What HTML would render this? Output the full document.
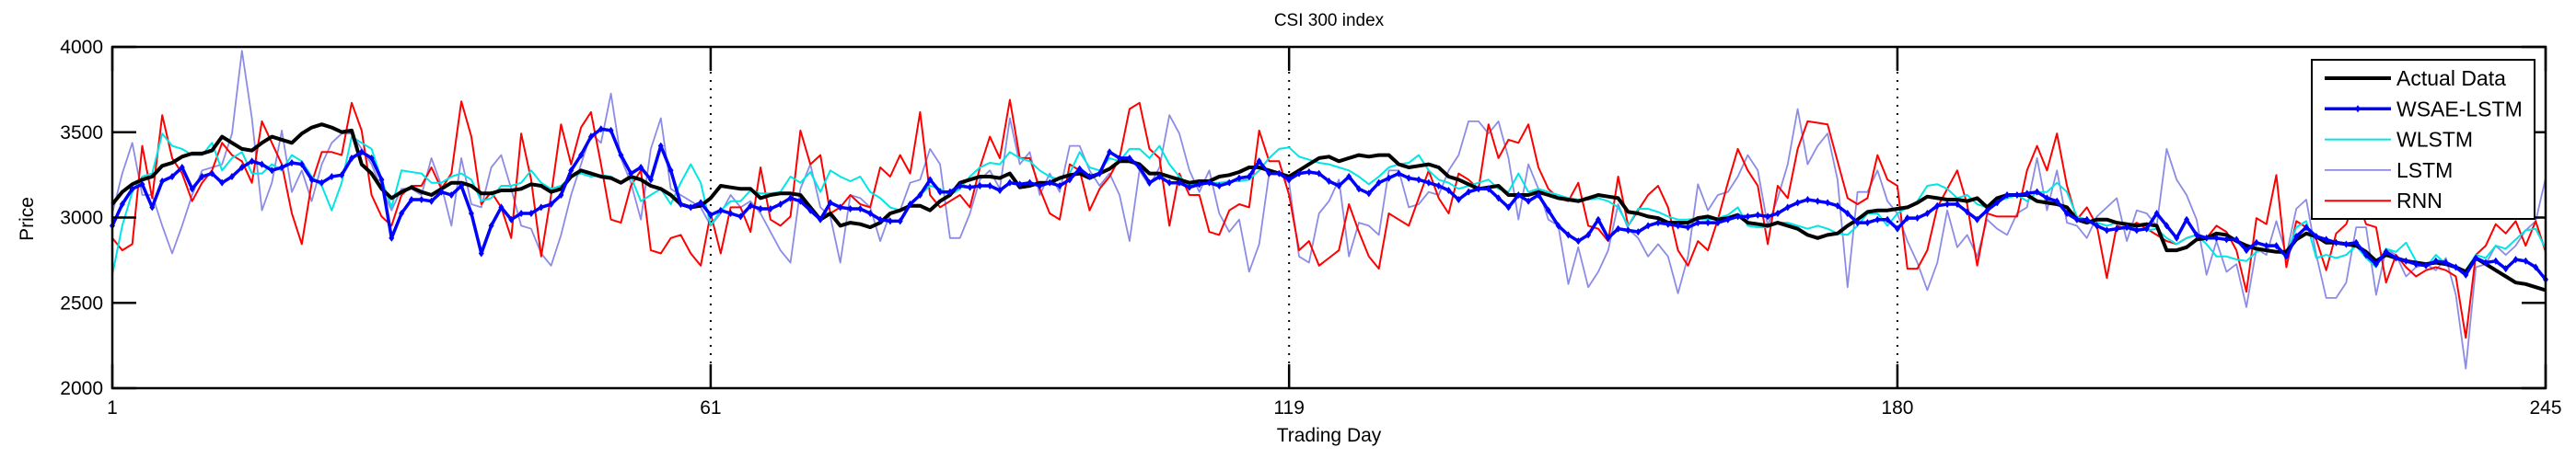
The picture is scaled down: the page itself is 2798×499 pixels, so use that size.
<!DOCTYPE html>
<html><head><meta charset="utf-8"><style>
html,body{margin:0;padding:0;background:#fff;}
svg{display:block;font-family:"Liberation Sans",Arial,sans-serif;}
</style></head><body>
<svg id="chart" width="2798" height="499" viewBox="0 0 2798 499" xmlns="http://www.w3.org/2000/svg"></svg>
<script>
const xTicks=[1,61,119,180,245];
const yTicks=[2000,2500,3000,3500,4000];
const gridDays=[61,119,180];
const actual=[3078,3150,3195,3222,3240,3303,3321,3357,3375,3375,3393,3474,3438,3402,3393,3438,3474,3456,3438,3492,3528,3546,3528,3501,3510,3312,3258,3168,3114,3150,3177,
3150,3132,3168,3204,3204,3186,3141,3141,3159,3159,3168,3195,3186,3150,3168,3240,3276,3258,3240,3231,3204,3240,3222,3186,3168,3132,3078,3060,3069,3114,
3186,3177,3168,3168,3114,3132,3141,3141,3132,3060,2988,3024,2952,2970,2961,2943,2970,3024,3042,3069,3069,3042,3096,3132,3204,3222,3240,3240,3231,3258,3177,
3186,3204,3204,3231,3249,3258,3231,3258,3285,3330,3330,3312,3258,3258,3240,3222,3204,3213,3213,3240,3249,3267,3294,3294,3276,3258,3240,3276,3312,3348,3357,
3330,3348,3366,3357,3366,3366,3312,3294,3303,3312,3294,3240,3222,3195,3168,3177,3186,3132,3132,3132,3150,3132,3114,3105,3096,3114,3132,3123,3114,3033,
3024,3006,2997,2970,2970,2970,2997,3006,2988,2997,3015,2970,2961,2952,2970,2952,2934,2898,2880,2898,2907,2952,2988,3033,3042,3042,3051,3060,3087,3123,3114,
3105,3105,3096,3114,3060,3114,3132,3132,3132,3096,3087,3078,3060,2988,2970,2988,2988,2970,2961,2952,2961,2952,2808,2808,2826,2871,2880,2907,2898,2862,
2835,2817,2808,2799,2799,2871,2907,2889,2853,2853,2844,2835,2799,2745,2781,2763,2745,2736,2727,2736,2727,2709,2682,2763,2727,2691,2655,2619,2610,2592,2574];
const wsae=[2952,3078,3168,3195,3060,3213,3240,3294,3168,3240,3258,3204,3240,3294,3330,3312,3276,3294,3321,3312,3222,3204,3240,3249,3348,3384,3348,3222,2880,3024,3105,
3105,3096,3150,3132,3186,3024,2790,2952,3060,2988,3024,3024,3060,3078,3132,3276,3366,3474,3519,3510,3366,3258,3294,3222,3420,3276,3078,3060,3087,3015,
3042,3024,3006,3069,3051,3051,3078,3114,3096,3042,2988,3087,3060,3051,3051,3024,2988,2979,2979,3078,3132,3222,3150,3150,3186,3177,3186,3186,3159,3204,3195,
3204,3186,3204,3186,3222,3285,3240,3258,3384,3348,3348,3294,3204,3240,3204,3204,3177,3195,3204,3186,3204,3231,3240,3330,3258,3258,3222,3258,3267,3258,3213,
3186,3240,3168,3141,3204,3231,3258,3231,3222,3204,3186,3159,3105,3150,3168,3168,3114,3060,3132,3096,3132,3042,2952,2898,2862,2898,2988,2880,2934,2925,
2916,2952,2970,2961,2952,2943,2970,2970,2970,2988,3006,3006,3015,3006,3024,3060,3087,3105,3096,3087,3069,3024,2970,2970,2988,2988,2934,2997,2997,3024,3069,
3078,3078,3033,2988,3042,3087,3132,3132,3141,3150,3114,3096,3024,2988,2988,2952,2925,2934,2943,2925,2934,3024,2952,2880,2988,2898,2880,2880,2871,2871,
2808,2853,2835,2835,2772,2889,2943,2889,2871,2853,2844,2853,2781,2727,2799,2763,2745,2727,2718,2745,2736,2709,2664,2763,2736,2745,2700,2754,2745,2709,2637];
const wlstm=[2664,2952,3150,3240,3258,3492,3420,3402,3366,3366,3438,3276,3348,3384,3258,3258,3312,3276,3366,3330,3240,3186,3042,3204,3474,3438,3402,3222,3060,3276,3267,
3258,3204,3204,3240,3258,3222,3096,3114,3186,3186,3204,3276,3204,3168,3186,3240,3258,3240,3249,3240,3204,3240,3096,3132,3168,3078,3204,3312,3204,2952,
3042,3096,3096,3159,3141,3141,3150,3240,3204,3267,3150,3276,3240,3213,3240,3150,3114,3060,3042,3078,3132,3186,3168,3132,3168,3240,3294,3321,3312,3384,3348,
3330,3276,3240,3222,3258,3384,3294,3276,3348,3330,3402,3402,3348,3420,3312,3240,3186,3204,3204,3204,3213,3213,3222,3276,3348,3402,3411,3357,3339,3321,3312,
3294,3276,3240,3195,3240,3294,3312,3321,3366,3276,3222,3204,3168,3186,3204,3222,3168,3150,3258,3150,3168,3150,3132,3114,3105,3105,3114,3096,3060,2952,
3051,3051,3033,3006,2988,2988,2997,2988,2997,3015,3060,2952,2943,2943,2970,2970,2952,2934,2952,2934,2907,2898,2952,3024,3024,2952,3024,3060,3096,3186,3195,
3168,3114,3132,3078,3060,3096,3114,3132,3096,3150,3150,3204,3150,3006,2988,2970,2952,2970,2952,2934,2925,2934,2880,2844,2880,2898,2844,2772,2772,2754,
2745,2799,2808,2799,2781,2943,2979,2763,2781,2763,2781,2835,2763,2709,2817,2799,2853,2745,2709,2781,2727,2709,2691,2781,2763,2835,2817,2871,2925,2934,2817];
const lstm=[3024,3258,3438,3132,3132,2952,2790,2952,3132,3276,3294,3312,3492,3978,3582,3042,3204,3510,3150,3276,3096,3312,3438,3492,3492,3402,3312,3168,3042,3168,3168,
3132,3348,3186,2952,3348,3078,3060,3294,3366,3168,2952,2934,2790,2718,2898,3132,3312,3492,3438,3726,3348,3204,2988,3402,3582,3168,3132,3096,3060,2952,
3024,3132,3060,3096,3024,2916,2808,2736,3168,3312,3060,3006,2736,3132,3114,3060,2862,3024,3042,3204,3222,3402,3312,2880,2880,3024,3222,3276,3168,3582,3312,
3384,3132,3258,3150,3420,3420,3276,3186,3258,3132,2862,3276,3186,3294,3600,3492,3276,3150,3276,3024,2916,2988,2682,2844,3258,3258,3204,2772,2736,3024,3096,
3222,2772,2970,2952,2898,3276,3276,3060,3078,3150,3132,3276,3366,3564,3564,3492,3564,3348,2988,3312,3168,2988,2952,2610,2826,2592,2682,2808,3078,2934,
2880,2772,2844,2772,2556,2772,3195,3042,3132,3150,3240,3366,3276,2952,3114,3312,3636,3312,3420,3492,3222,2592,3150,3150,3276,3096,3024,2862,2736,2574,2736,
3042,2826,2898,2772,2988,2934,2898,3024,3060,3348,3042,3276,2970,2952,2880,3006,3060,3114,2862,3042,3024,2952,3402,3222,3132,2988,2664,2862,2682,2727,
2475,2817,2781,2979,2781,3051,3105,2781,2529,2529,2619,2943,2943,2547,2817,2781,2655,2709,2727,2691,2763,2547,2115,2709,2727,2835,2781,2835,2925,2979,3231];
const rnn=[2880,2808,2844,3420,3114,3600,3348,3258,3096,3204,3276,3438,3366,3330,3204,3564,3438,3312,3024,2844,3204,3384,3384,3366,3672,3510,3132,3006,2952,3132,3186,
3186,3294,3168,3258,3681,3474,3078,3150,3060,2880,3492,3222,2772,3132,3546,3312,3528,3618,3312,2988,2970,3186,3276,2808,2790,2880,2898,2790,2718,3024,
2790,3060,3060,2916,3294,2988,2952,3006,3510,3312,3366,3024,3060,3132,3078,3060,3294,3240,3366,3258,3618,3132,3060,3096,3132,3060,3294,3474,3348,3690,3348,
3348,3168,3024,2988,3312,3276,3042,3168,3240,3348,3636,3672,3402,3348,2952,3258,3132,3132,2916,2898,3042,3078,3060,3510,3330,3330,3132,2808,2862,2718,2763,
2808,3078,2916,2772,2700,3024,2988,2952,3114,3276,3114,3024,3258,3222,3168,3546,3348,3456,3438,3546,3294,3168,3114,3096,3204,2952,2934,2862,3240,2952,
3042,3132,3186,3060,2808,2718,2862,2808,2988,3204,3402,3276,3186,2844,3186,3114,3402,3564,3555,3546,3330,3114,3078,3114,3366,3222,3186,2700,2700,2808,3060,
3168,3276,3078,2718,3024,3006,3006,3006,3276,3420,3276,3492,3186,2988,3060,2952,2646,2952,2934,2970,2934,2898,2862,2844,2880,2898,2880,2952,2916,2808,
2565,2997,2961,3249,2709,2979,2943,2871,2691,2907,2961,3123,2961,2943,2619,2781,2709,2655,2691,2709,2691,2655,2295,2781,2835,2961,2907,2979,2835,2979,2799];

const NS="http://www.w3.org/2000/svg";
const svg=document.getElementById('chart');
const L=122,R=2765,T=51,B=422;
const xS=d=>L+(d-1)/(244)*(R-L);
const yS=v=>B-(v-2000)/2000*(B-T);
function mk(tag,attrs,parent){const e=document.createElementNS(NS,tag);for(const k in attrs)e.setAttribute(k,attrs[k]);(parent||svg).appendChild(e);return e;}

const title=mk('text',{x:(L+R)/2,y:28,'text-anchor':'middle','font-size':19,fill:'#000'});
title.textContent='CSI 300 index';



// grid lines
gridDays.forEach(d=>{
  const g=mk('line',{x1:xS(d),x2:xS(d),y1:T,y2:B,stroke:'#000','stroke-width':2,'stroke-dasharray':'2 7'});
  
  
});

// series
function series(data,color,width,name,opacity){
  const pts=data.map((v,i)=>xS(i+1).toFixed(1)+','+yS(v).toFixed(1)).join(' ');
  const p=mk('polyline',{points:pts,fill:'none',stroke:color,'stroke-width':width,'stroke-linejoin':'round','stroke-opacity':opacity||1});
  
  
  return p;
}
series(lstm,'#8c8ce6',1.8,'lstm-line');
series(rnn,'#ff0000',2,'rnn-line');
series(wlstm,'#00e5e5',2,'wlstm-line');
series(actual,'#000000',4,'actual-data-line');
series(wsae,'#0000ff',3.5,'wsae-lstm-line');
const mg=mk('g',{fill:'#0000ff'});


wsae.forEach((v,i)=>{
  const x=xS(i+1),y=yS(v);
  const m=mk('path',{d:`M${x} ${y-4}L${x+3} ${y}L${x} ${y+4}L${x-3} ${y}Z`},mg);
  
  
});

// axes box
const box=mk('rect',{x:L,y:T,width:R-L,height:B-T,fill:'none',stroke:'#000','stroke-width':2.5});



// y ticks
yTicks.forEach(v=>{
  const y=yS(v);
  const t1=mk('line',{x1:L,x2:L+26,y1:y,y2:y,stroke:'#000','stroke-width':2.5});
  
  
  const t2=mk('line',{x1:R-26,x2:R,y1:y,y2:y,stroke:'#000','stroke-width':2.5});
  
  
  const lb=mk('text',{x:112,y:y+7,'text-anchor':'end','font-size':21,fill:'#000'});
  lb.textContent=v;
  
  
});
// x ticks
xTicks.forEach(d=>{
  const x=xS(d);
  const t1=mk('line',{x1:x,x2:x,y1:B,y2:B-26,stroke:'#000','stroke-width':2.5});
  
  
  const t2=mk('line',{x1:x,x2:x,y1:T,y2:T+26,stroke:'#000','stroke-width':2.5});
  
  
  const lb=mk('text',{x:x,y:450,'text-anchor':'middle','font-size':21,fill:'#000'});
  lb.textContent=d;
  
  
});

const xl=mk('text',{x:(L+R)/2,y:480,'text-anchor':'middle','font-size':21,fill:'#000'});
xl.textContent='Trading Day';


const yl=mk('text',{x:0,y:0,'text-anchor':'middle','font-size':21,fill:'#000',transform:'translate(36,238) rotate(-90)'});
yl.textContent='Price';



// legend
const lg=mk('g',{});


mk('rect',{x:2511,y:65,width:242,height:173,fill:'#fff',stroke:'#000','stroke-width':2},lg);
const legendNames=['Actual Data','WSAE-LSTM','WLSTM','LSTM','RNN'];
const legendColors=['#000000','#0000ff','#00e5e5','#8c8ce6','#ff0000'];
const legendWidths=[4,3.5,2,1.8,2];
legendNames.forEach((n,i)=>{
  const y=85+i*33.3;
  const ent=mk('g',{},lg);
  
  
  mk('line',{x1:2525,x2:2597,y1:y,y2:y,stroke:legendColors[i],'stroke-width':legendWidths[i]},ent);
  if(i===1) mk('path',{d:`M2561 ${y-4}L2564 ${y}L2561 ${y+4}L2558 ${y}Z`,fill:'#0000ff'},ent);
  const t=mk('text',{x:2603,y:y+8,'font-size':23,fill:'#000'},ent);
  t.textContent=n;
});
</script>
</body></html>
